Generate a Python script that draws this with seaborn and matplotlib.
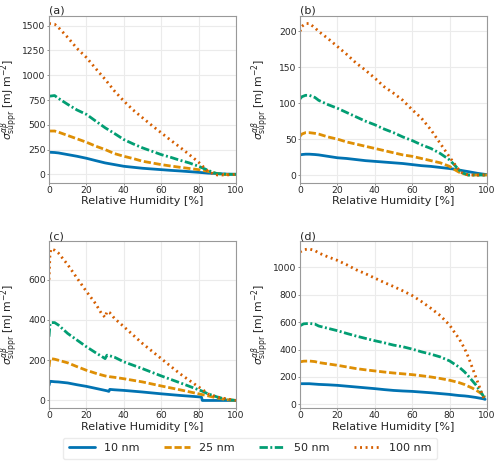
import matplotlib
matplotlib.use("Agg")
import matplotlib.pyplot as plt
from matplotlib.ticker import MultipleLocator
import numpy as np
import pandas as pd
import seaborn as sns

sizes = ["10 nm", "25 nm", "50 nm", "100 nm"]
panel_labels = ["(a)", "(b)", "(c)", "(d)"]

# panel (a)
rh_a = [0, 3, 5, 10, 15, 20, 25, 30, 35, 40, 45, 50, 55, 60, 65, 70, 75, 80, 85, 88, 90, 95, 100]
a_10 = [223, 220, 216, 199, 182, 162, 138, 115, 98, 81, 71, 61, 54, 47, 40, 34, 27, 20, 12, 9, 7, 2, 0]
a_25 = [437, 437, 426, 392, 358, 324, 284, 250, 209, 182, 159, 132, 115, 98, 84, 71, 59, 47, 30, 15, 7, -3, 0]
a_50 = [788, 795, 767, 706, 649, 605, 537, 470, 412, 351, 307, 267, 233, 199, 172, 142, 115, 81, 41, 17, 7, 0, 0]
a_100 = [1522, 1515, 1483, 1382, 1270, 1179, 1067, 959, 841, 740, 649, 571, 493, 419, 345, 274, 199, 122, 30, 3, -7, -7, 0]

# panel (b)
rh_b = [0, 1, 3, 5, 8, 10, 15, 20, 25, 30, 35, 40, 45, 50, 55, 60, 65, 70, 75, 80, 83, 85, 87, 90, 95, 100]
b_10 = [28, 28.5, 29, 29, 28.5, 28, 26, 24, 23, 21.5, 20, 19, 18, 17, 16, 14.5, 13, 12, 10.5, 9, 8, 7, 6, 4.7, 2.3, 0.5]
b_25 = [54, 57, 59, 59, 58, 57, 53, 50, 46, 43, 40, 37, 34, 31, 28, 26, 23, 20, 17, 12, 7, 4, 2, 0, 0, 0]
b_50 = [106, 109, 111, 111, 108, 104, 98, 93, 87, 81, 75, 70, 64, 59, 53, 48, 42, 37, 30, 21, 13, 7, 3, 0, 0, 0]
b_100 = [200, 207, 211, 211, 205, 200, 190, 179, 168, 156, 146, 135, 123, 114, 104, 91, 79, 63, 44, 25, 14, 7, 2, 0, 0, 0]

# panel (c)
rh_c = [0, 0.5, 1, 3, 5, 10, 15, 20, 25, 28, 30, 31, 32, 32.5, 35, 40, 50, 60, 70, 80, 81.5, 82, 85, 90, 95, 100]
c_10 = [75, 95, 95, 93, 92, 87, 78, 70, 60, 54, 50, 48, 45, 55, 53, 50, 42, 33, 25, 18, 17, 0, 0, 0, 0, 0]
c_25 = [167, 205, 208, 205, 200, 187, 168, 150, 135, 127, 122, 120, 119, 118, 115, 108, 92, 72, 53, 33, 30, 29, 23, 12, 4, 0]
c_50 = [317, 375, 387, 387, 375, 333, 300, 267, 237, 220, 208, 225, 223, 222, 215, 192, 158, 122, 88, 53, 48, 46, 33, 17, 5, 0]
c_100 = [600, 720, 753, 747, 733, 675, 608, 542, 480, 433, 413, 442, 438, 436, 408, 367, 283, 208, 133, 67, 58, 55, 33, 17, 8, 0]

# panel (d)
rh_d = [0, 2, 5, 8, 10, 15, 20, 25, 30, 35, 40, 45, 50, 55, 60, 65, 70, 75, 80, 83, 85, 88, 90, 92, 94, 96, 98, 99]
d_10 = [151, 151, 151, 148, 146, 143, 139, 133, 127, 121, 115, 108, 102, 98, 95, 90, 85, 79, 73, 68, 65, 62, 59, 55, 51, 46, 41, 37]
d_25 = [310, 315, 316, 312, 305, 295, 285, 273, 261, 252, 244, 236, 229, 223, 217, 209, 200, 189, 176, 166, 159, 145, 132, 120, 105, 88, 68, 54]
d_50 = [573, 587, 590, 585, 571, 554, 537, 517, 498, 481, 464, 449, 432, 420, 403, 383, 366, 346, 317, 290, 273, 237, 207, 175, 143, 106, 62, 37]
d_100 = [1110, 1127, 1132, 1120, 1103, 1074, 1049, 1017, 981, 952, 920, 888, 859, 827, 793, 749, 700, 647, 578, 517, 481, 407, 346, 273, 200, 127, 54, 29]

panels = [
    (rh_a, [a_10, a_25, a_50, a_100], 250),
    (rh_b, [b_10, b_25, b_50, b_100], 50),
    (rh_c, [c_10, c_25, c_50, c_100], 200),
    (rh_d, [d_10, d_25, d_50, d_100], 200),
]


def long_form(rh, series):
    frames = []
    for name, vals in zip(sizes, series):
        frames.append(pd.DataFrame({"rh": rh, "sigma": vals, "size": name}))
    return pd.concat(frames, ignore_index=True)


sns.set_style("whitegrid")
plt.rcParams.update({
    "axes.edgecolor": "0.6",
    "grid.color": "0.92",
    "xtick.bottom": True,
    "ytick.left": True,
    "xtick.color": "0.15",
    "ytick.color": "0.15",
})

palette = sns.color_palette("colorblind", 4)
dashes = ["", (2.6, 1.0), (3.0, 0.9, 0.7, 0.9), (0.7, 1.3)]

fig, axes = plt.subplots(2, 2, figsize=(5.0, 4.69), dpi=100)
fig.subplots_adjust(left=0.098, right=0.974, top=0.966, bottom=0.130,
                    wspace=0.342, hspace=0.353)

handles, labels = None, None
for ax, (rh, series, step), lab in zip(axes.flat, panels, panel_labels):
    df = long_form(rh, series)
    sns.lineplot(data=df, x="rh", y="sigma", hue="size", style="size",
                 hue_order=sizes, style_order=sizes, palette=palette,
                 dashes=dashes, linewidth=2, sort=False, ax=ax, legend=True)
    leg = ax.get_legend()
    if handles is None:
        handles = leg.legend_handles
        labels = [t.get_text() for t in leg.get_texts()]
    leg.remove()
    ax.set_xlim(0, 100)
    ax.yaxis.set_major_locator(MultipleLocator(step))
    ax.xaxis.set_major_locator(MultipleLocator(20))
    ax.tick_params(axis="both", labelsize=6.6, length=1.6, width=0.6, pad=0.8,
                   color="0.5")
    ax.set_xlabel("Relative Humidity [%]", fontsize=8, labelpad=1)
    ax.set_ylabel(r"$\sigma^{\alpha\beta}_{\rm suppr}$ [mJ m$^{-2}$]", fontsize=7.8)
    ax.yaxis.set_label_coords(-0.148, 0.5)
    ax.text(0.0, 1.0, lab, transform=ax.transAxes, ha="left", va="bottom",
            fontsize=8)
    for sp in ax.spines.values():
        sp.set_linewidth(0.8)

fig.legend(handles, labels, loc="lower center", bbox_to_anchor=(0.5, 0.01),
           ncol=4, fontsize=8, frameon=True, handlelength=2.4,
           columnspacing=2.2, handletextpad=0.75, borderpad=0.5,
           edgecolor="0.9")

fig.savefig("out.png", dpi=100)
